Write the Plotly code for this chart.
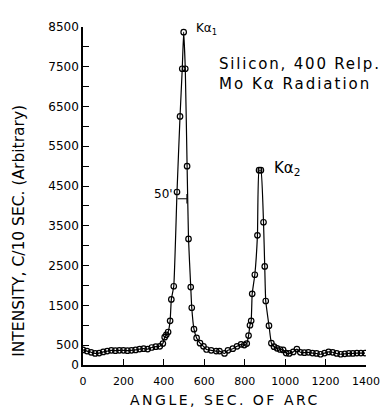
import plotly.graph_objects as go

# Data
angle = [0, 20, 40, 60, 80, 100, 120, 140, 160, 180, 200, 220, 240, 260, 280, 300, 320, 340, 360, 380,
         395, 404, 412, 421, 431, 437, 449, 465, 480, 491, 498, 506, 515, 522, 533, 538, 549, 562,
         579, 596, 611, 634, 659, 675, 700, 717, 741, 762, 782, 798, 810, 819, 826, 832, 837, 850,
         863, 871, 880, 893, 899, 904, 920, 932, 945, 960, 975, 990, 1005, 1020, 1040, 1058, 1075,
         1095, 1115, 1135, 1155, 1175, 1195, 1215, 1235, 1255, 1275, 1295, 1315, 1335, 1355, 1375, 1395]
intensity = [380, 350, 320, 290, 300, 330, 350, 370, 360, 370, 370, 360, 370, 380, 400, 410, 400, 440, 460, 470,
             540, 700, 760, 830, 1110, 1650, 1980, 4350, 6250, 7450, 8370, 7450, 5000, 3170, 1960, 1440, 900, 680,
             550, 470, 390, 370, 350, 350, 290, 370, 410, 470, 520, 500, 540, 740, 1000, 1110, 1790, 2270,
             3260, 4900, 4900, 3590, 2480, 1610, 990, 550, 460, 420, 390, 380, 300, 290, 330, 400, 320,
             310, 320, 300, 290, 270, 300, 330, 320, 290, 270, 280, 290, 290, 300, 300, 300]

y_tickvals = list(range(0, 9000, 500))
y_ticktext = ["0" if v == 0 else (str(v) if v % 1000 == 500 else "") for v in y_tickvals]
x_tickvals = list(range(0, 1600, 200))
x_ticktext = [str(v) for v in x_tickvals]

FONT = "DejaVu Sans"
fwhm_left, fwhm_right, half_max = 468, 514, 4180


def spaced(text, px):
    return f'<span style="letter-spacing:{px}px">{text}</span>'


fig = go.Figure()
fig.add_trace(go.Scatter(
    x=angle, y=intensity, mode="lines+markers",
    line=dict(color="black", width=1.2, shape="spline", smoothing=0.4),
    marker=dict(symbol="circle-open", size=5.5, color="black", line=dict(width=1.2)),
    showlegend=False, hoverinfo="skip"))

fig.update_layout(
    width=384, height=402,
    margin=dict(l=75, r=22, t=14, b=45),
    paper_bgcolor="white", plot_bgcolor="white",
    font=dict(family=FONT, color="black"),
    xaxis=dict(range=[0, 1400], tickvals=x_tickvals, ticktext=x_ticktext,
               ticks="inside", ticklen=6, tickwidth=1.2, tickcolor="black",
               showline=True, linecolor="black", linewidth=1.5, showgrid=False,
               zeroline=False, tickfont=dict(size=11, family=FONT), ticklabelstandoff=5),
    yaxis=dict(range=[0, 8500], tickvals=y_tickvals, ticktext=y_ticktext,
               ticks="inside", ticklen=6, tickwidth=1.2, tickcolor="black",
               showline=True, linecolor="black", linewidth=1.5, showgrid=False,
               zeroline=False, tickfont=dict(size=12, family=FONT)),
)

ann = [
    dict(text="Kα<sub>1</sub>", x=612, y=8450, size=12, xa="center"),
    dict(text="Kα<sub>2</sub>", x=1008, y=4930, size=15, xa="center"),
    dict(text=spaced("Silicon, 400 Relp.", 1.8), x=663, y=7560, size=15, xa="left"),
    dict(text=spaced("Mo Kα Radiation", 2), x=663, y=7060, size=15, xa="left"),
    dict(text="50'", x=398, y=4300, size=12, xa="center"),
]
for a in ann:
    fig.add_annotation(x=a["x"], y=a["y"], xref="x", yref="y", text=a["text"],
                       showarrow=False, xanchor=a["xa"], yanchor="middle",
                       font=dict(size=a["size"], family=FONT, color="black"))

fig.add_annotation(x=-0.225, y=0.398, xref="paper", yref="paper",
                   text="INTENSITY, C/10 SEC. (Arbitrary)", textangle=-90,
                   showarrow=False, xanchor="center", yanchor="middle",
                   font=dict(size=15.5, family=FONT, color="black"))
fig.add_annotation(x=0.5, y=-0.105, xref="paper", yref="paper",
                   text=spaced("ANGLE, SEC. OF ARC", 2.5), showarrow=False,
                   xanchor="center", yanchor="middle",
                   font=dict(size=14, family=FONT, color="black"))

fig.add_shape(type="line", x0=fwhm_left, x1=fwhm_right, y0=half_max, y1=half_max,
              xref="x", yref="y", line=dict(color="black", width=1))
fig.add_shape(type="line", x0=fwhm_right, x1=fwhm_right, y0=half_max - 120, y1=half_max + 120,
              xref="x", yref="y", line=dict(color="black", width=1))

fig.write_html("out.html")
